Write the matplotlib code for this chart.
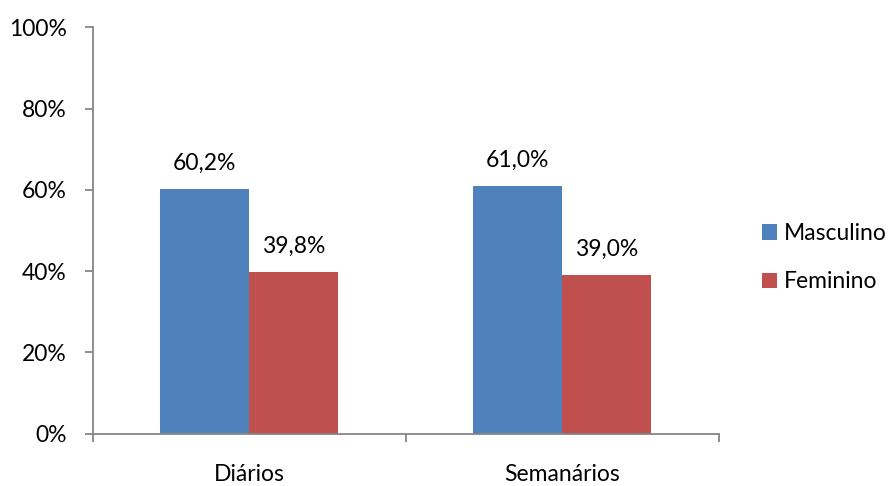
import matplotlib
matplotlib.use("Agg")
import matplotlib.pyplot as plt
import numpy as np
from matplotlib.patches import Patch

categories = ["Diários", "Semanários"]
series_names = ["Masculino", "Feminino"]
masculino = [60.2, 61.0]
feminino = [39.8, 39.0]
y_ticks = [0, 20, 40, 60, 80, 100]
colors = ["#4F81BD", "#C0504D"]

plt.rcParams["font.family"] = ["Lato", "DejaVu Sans"]
FS = 16.5

fig = plt.figure(figsize=(8.96, 4.86), dpi=100)
ax = fig.add_axes([0.1038, 0.1076, 0.6982, 0.8364])

x = np.arange(len(categories))
w = 0.2846
values = [masculino, feminino]
offsets = [-w / 2, w / 2]
for vals, off, col in zip(values, offsets, colors):
    bars = ax.bar(x + off, vals, width=w, color=col, linewidth=0)
    for b, v in zip(bars, vals):
        ax.annotate(f"{v:.1f}%".replace(".", ","),
                    (b.get_x() + b.get_width() / 2, v),
                    xytext=(0, 11), textcoords="offset points",
                    ha="center", va="bottom", fontsize=FS, color="black")

ax.set_xlim(-0.5, len(categories) - 0.5)
ax.set_ylim(0, 100)
ax.set_yticks(y_ticks)
ax.set_yticklabels([f"{t}%" for t in y_ticks], fontsize=FS)
ax.set_xticks(x)
ax.set_xticklabels(categories, fontsize=FS)
ax.set_xticks(np.arange(-0.5, len(categories), 1.0), minor=True)

axis_col = "#868686"
for s in ["top", "right"]:
    ax.spines[s].set_visible(False)
for s in ["left", "bottom"]:
    ax.spines[s].set_color(axis_col)
    ax.spines[s].set_linewidth(1.3)

ax.tick_params(axis="y", which="major", direction="out", length=6, width=1.3,
               color=axis_col, pad=13)
ax.tick_params(axis="x", which="major", length=0, pad=22)
ax.tick_params(axis="x", which="minor", direction="out", length=6, width=1.3,
               color=axis_col)

handles = [Patch(facecolor=c, edgecolor="none") for c in colors]
fig.legend(handles, series_names, loc="center left",
           bbox_to_anchor=(0.8505, 0.47), frameon=False, fontsize=FS,
           handlelength=0.66, handleheight=0.66, handletextpad=0.3,
           labelspacing=1.2, borderaxespad=0, borderpad=0)

fig.savefig("out.png", dpi=100)
